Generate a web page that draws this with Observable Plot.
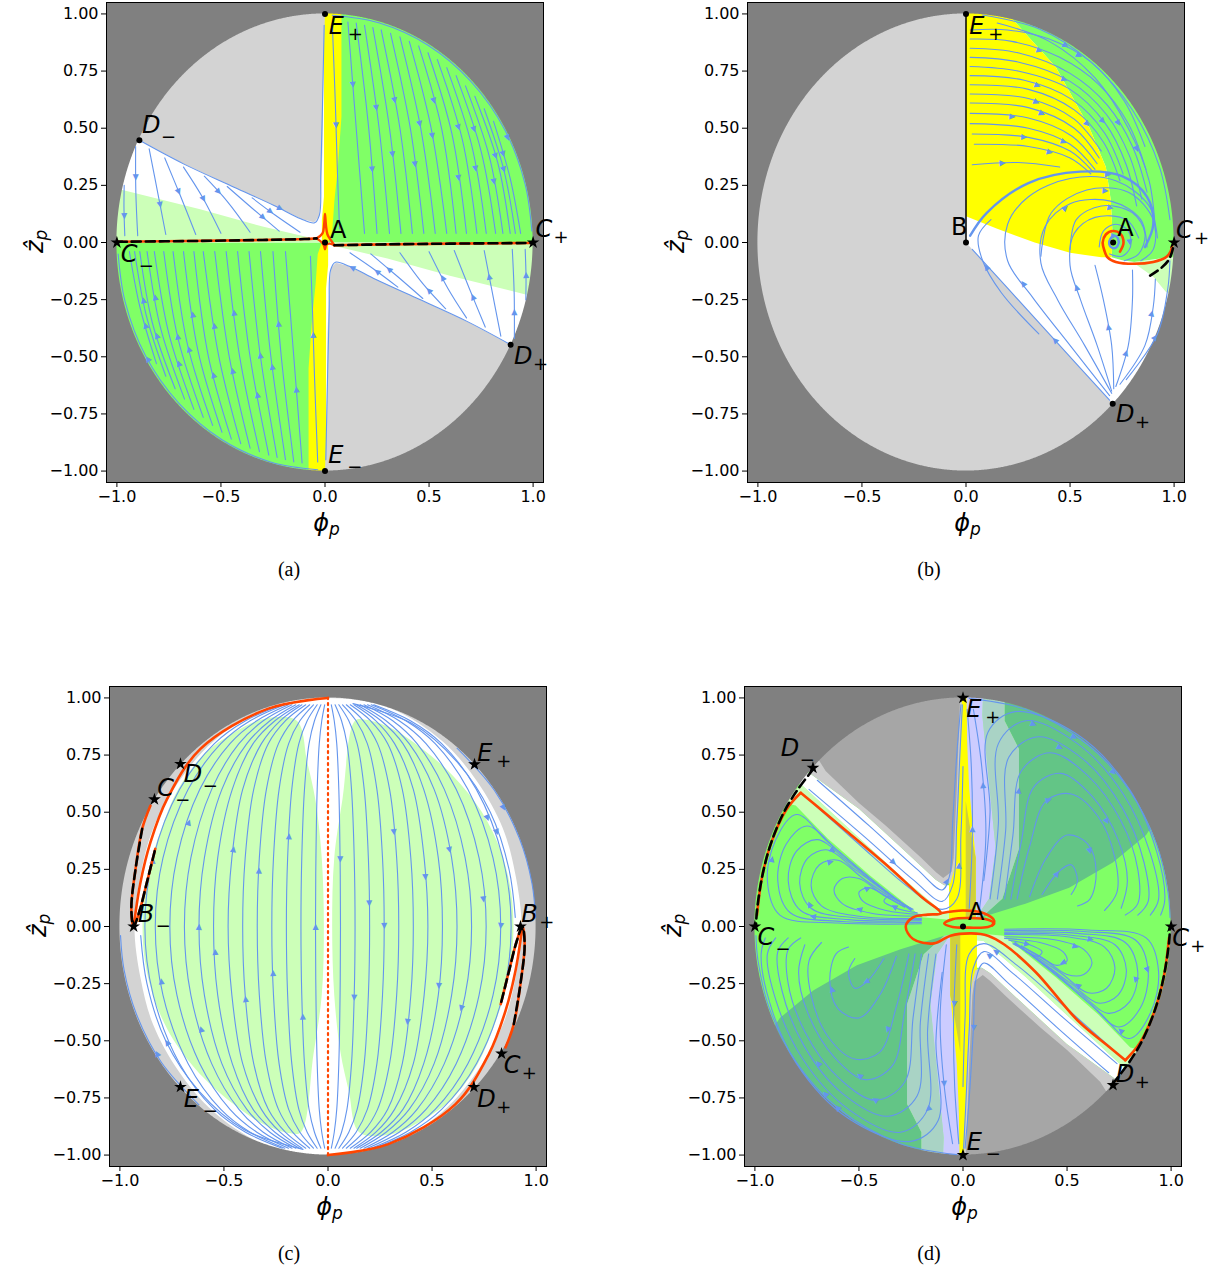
<!DOCTYPE html>
<html><head><meta charset="utf-8">
<script src="https://cdn.jsdelivr.net/npm/d3@7"></script>
<script src="https://cdn.jsdelivr.net/npm/@observablehq/plot@0.6"></script>
<style>
body{margin:0;background:#fff;}
#root{position:relative;width:1222px;height:1275px;background:#fff;overflow:hidden;}
.panel{position:absolute;}
.cap{position:absolute;font-family:"Liberation Serif","Times New Roman",serif;font-size:20px;line-height:20px;transform:translateX(-50%);white-space:nowrap;}
</style></head>
<body><div id="root"></div>
<script>
// ---------------- ticks ----------------
const XT = [-1, -0.5, 0, 0.5, 1];
const YT = [-1, -0.75, -0.5, -0.25, 0, 0.25, 0.5, 0.75, 1];
const CAPTIONS = ["(a)", "(b)", "(c)", "(d)"];

// ---------------- panel (a) ----------------
const A_grayUL = [[-0.892,0.447],[-0.68,0.344],[-0.437,0.242],[-0.245,0.162],[-0.117,0.104],[-0.053,0.089],[-0.029,0.111],[-0.021,0.184],[-0.012,0.40],[-0.008,0.767],[0,1.0],[0,1.1],[-1.1,1.1],[-1.1,0.55],[-0.99,0.495]];
const A_lightUL = [[-1.1,0.26],[-0.997,0.235],[-0.6,0.145],[-0.3,0.07],[-0.117,0.031],[-0.03,0.012],[-0.03,0],[-1.1,0]];
const A_greenUR = [[0,0],[1.1,0],[1.1,1.1],[0,1.1]];
const A_yellowU = [[-0.005,1.1],[0.079,1.1],[0.079,0.55],[0.062,0.33],[0.045,0.18],[0.035,0.05],[0.015,0],[-0.015,0],[-0.015,0.1],[-0.005,0.2]];
const A_sepL = [[-0.995,0.003],[-0.6,0.007],[-0.3,0.011],[-0.1,0.015],[-0.04,0.018]];
const A_sepR = [[0.045,-0.012],[0.3,-0.008],[0.6,-0.005],[0.995,-0.002]];
const A_cuspUp = [[-0.04,0.018],[-0.012,0.04],[-0.004,0.08],[0,0.125],[0.004,0.08],[0.012,0.035],[0.03,0.008],[0.045,-0.012]];
const A_cuspDown = [[-0.04,0.018],[-0.015,0.0],[-0.004,-0.015],[0,-0.03],[0.006,-0.01],[0.02,-0.005],[0.045,-0.012]];
const A_streamUR = [
  [[0.035,0.96],[0.05,0.6],[0.06,0.3],[0.07,0.06]],
  [[0.11,0.965],[0.15,0.5],[0.19,0.04]],
  [[0.15,0.96],[0.21,0.5],[0.25,0.04]],
  [[0.19,0.95],[0.26,0.5],[0.31,0.04]],
  [[0.23,0.94],[0.31,0.5],[0.365,0.04]],
  [[0.27,0.93],[0.36,0.5],[0.42,0.04]],
  [[0.315,0.915],[0.41,0.5],[0.475,0.04]],
  [[0.36,0.9],[0.46,0.5],[0.53,0.04]],
  [[0.405,0.88],[0.51,0.5],[0.585,0.04]],
  [[0.45,0.86],[0.56,0.5],[0.63,0.04]],
  [[0.495,0.83],[0.61,0.475],[0.68,0.04]],
  [[0.54,0.8],[0.66,0.45],[0.73,0.04]],
  [[0.585,0.765],[0.705,0.425],[0.775,0.04]],
  [[0.63,0.73],[0.75,0.4],[0.82,0.04]],
  [[0.675,0.685],[0.79,0.375],[0.855,0.04]],
  [[0.72,0.64],[0.83,0.35],[0.89,0.04]],
  [[0.765,0.585],[0.86,0.315],[0.915,0.04]],
  [[0.81,0.53],[0.89,0.28],[0.94,0.04]],
  [[0.035,0.994],[0.258,0.961],[0.497,0.862],[0.703,0.703],[0.862,0.497],[0.961,0.258],[0.994,0.05]]
];
const A_streamUL = [
  [[-0.892,0.447],[-0.68,0.344],[-0.437,0.242],[-0.245,0.162],[-0.117,0.104],[-0.05,0.086],[-0.027,0.12],[-0.02,0.3],[-0.012,0.6],[-0.004,0.95]],
  [[-0.965,0.25],[-0.966,0.15],[-0.962,0.03]],
  [[-0.91,0.42],[-0.909,0.22],[-0.9,0.03]],
  [[-0.845,0.41],[-0.8,0.2],[-0.765,0.035]],
  [[-0.77,0.37],[-0.693,0.2],[-0.621,0.035]],
  [[-0.68,0.33],[-0.59,0.2],[-0.5,0.04]],
  [[-0.58,0.29],[-0.47,0.18],[-0.36,0.045]],
  [[-0.47,0.245],[-0.35,0.15],[-0.22,0.05]],
  [[-0.35,0.195],[-0.24,0.12],[-0.12,0.045]]
];
const A_dots = [[0,1],[0,-1],[-0.892,0.447],[0.892,-0.447],[0,0]];
const A_stars = [[1,0],[-1,0]];
const A_labels = [
  {t:"E",s:"+",x:0.018,y:0.914,it:1},{t:"D",s:"−",x:-0.88,y:0.481,it:1},{t:"A",s:"",x:0.024,y:0.021,it:0},
  {t:"C",s:"+",x:1.012,y:0.022,it:1},{t:"C",s:"−",x:-0.981,y:-0.086,it:1},{t:"D",s:"+",x:0.908,y:-0.53,it:1},
  {t:"E",s:"−",x:0.016,y:-0.964,it:1}
];

// ---------------- panel (b) ----------------
const B_gray = [[0,1.1],[0,0],[0.705,-0.705],[0.8,-0.8],[0.8,-1.1],[-1.1,-1.1],[-1.1,1.1]];
const B_yellow = [[0,1.1],[0.21,1.1],[0.208,0.993],[0.432,0.767],[0.592,0.504],[0.672,0.33],[0.696,0.184],[0.704,0.04],[0.7,-0.065],[0.65,-0.065],[0.5,-0.045],[0.33,0.0],[0.15,0.06],[0,0.115]];
const B_green = [[0.21,1.1],[0.208,0.993],[0.432,0.767],[0.592,0.504],[0.672,0.33],[0.696,0.184],[0.704,0.04],[0.7,-0.065],[0.75,-0.078],[0.81,-0.085],[0.95,-0.068],[1.1,-0.06],[1.1,1.1]];
const B_light = [[0.8,-0.085],[0.9,-0.15],[0.96,-0.215],[1.1,-0.27],[1.1,-0.06]];
const B_vline = [[0,0],[0,1]];
const B_orange = [[0.74,-0.04],[0.757,0.0],[0.74,0.04],[0.707,0.05],[0.672,0.035],[0.657,0.0],[0.665,-0.035],[0.68,-0.065],[0.72,-0.085],[0.808,-0.093],[0.9,-0.085],[0.96,-0.065],[0.983,-0.04],[0.99,-0.015]];
const B_dash = [[0.885,-0.145],[0.94,-0.11],[0.975,-0.075],[0.992,-0.035],[0.997,-0.005]];
const B_streamYellow = [
  [[0.02,0.93],[0.2,0.93],[0.4,0.89],[0.6,0.79],[0.76,0.62],[0.86,0.42]],
  [[0.02,0.89],[0.22,0.88],[0.45,0.81],[0.64,0.69],[0.78,0.52],[0.865,0.32]],
  [[0.02,0.85],[0.25,0.83],[0.5,0.74],[0.68,0.6],[0.8,0.42],[0.87,0.22]],
  [[0.02,0.81],[0.25,0.79],[0.5,0.705],[0.675,0.56],[0.785,0.38],[0.845,0.19]],
  [[0.02,0.77],[0.25,0.75],[0.5,0.67],[0.67,0.52],[0.77,0.34],[0.82,0.16]],
  [[0.02,0.73],[0.28,0.71],[0.51,0.625],[0.665,0.48],[0.755,0.3]],
  [[0.02,0.69],[0.3,0.67],[0.52,0.58],[0.66,0.44],[0.74,0.27]],
  [[0.02,0.65],[0.3,0.63],[0.52,0.54],[0.65,0.4]],
  [[0.02,0.61],[0.3,0.59],[0.52,0.5],[0.64,0.37]],
  [[0.02,0.565],[0.3,0.545],[0.51,0.465],[0.63,0.345]],
  [[0.02,0.52],[0.3,0.5],[0.5,0.43],[0.62,0.32]],
  [[0.03,0.475],[0.3,0.46],[0.5,0.4],[0.61,0.31]],
  [[0.04,0.43],[0.3,0.42],[0.5,0.37],[0.6,0.3]],
  [[0.03,0.34],[0.25,0.35],[0.45,0.33]]
];
const B_streamLoops = [
  [[0.64,-0.02],[0.66,0.05],[0.72,0.08],[0.78,0.05],[0.79,-0.02],[0.75,-0.06],[0.69,-0.05]],
  [[0.5,-0.03],[0.53,0.1],[0.65,0.16],[0.8,0.13],[0.86,0.04],[0.83,-0.05],[0.76,-0.08]],
  [[0.36,-0.06],[0.41,0.13],[0.58,0.23],[0.78,0.22],[0.9,0.1],[0.9,-0.03],[0.84,-0.08]]
];
const B_streamOuter = [
  [[0.08,0.995],[0.35,0.935],[0.6,0.79],[0.8,0.58],[0.93,0.33],[0.98,0.1]],
  [[0.15,0.96],[0.4,0.88],[0.62,0.72],[0.78,0.5],[0.88,0.27],[0.91,0.05]]
];
const B_streamWhite = [
  [[0.69,-0.69],[0.45,-0.45],[0.2,-0.2],[0.03,-0.03]],
  [[0.35,-0.4],[0.17,-0.22],[0.08,-0.08],[0.06,0.03],[0.12,0.1]],
  [[0.69,-0.67],[0.5,-0.45],[0.32,-0.24],[0.2,-0.08],[0.2,0.08],[0.3,0.2],[0.5,0.28],[0.72,0.27],[0.88,0.16],[0.92,0.02]],
  [[0.70,-0.66],[0.57,-0.45],[0.44,-0.25],[0.36,-0.09],[0.38,0.07],[0.5,0.17],[0.7,0.18],[0.84,0.1],[0.87,-0.02]],
  [[0.70,-0.65],[0.63,-0.45],[0.55,-0.25],[0.5,-0.1],[0.52,0.04],[0.62,0.11],[0.77,0.1],[0.83,0.02]],
  [[0.71,-0.64],[0.7,-0.45],[0.66,-0.25],[0.62,-0.1]],
  [[0.72,-0.63],[0.78,-0.45],[0.8,-0.25],[0.8,-0.12]],
  [[0.74,-0.62],[0.86,-0.45],[0.9,-0.28],[0.91,-0.16]],
  [[0.77,-0.6],[0.92,-0.4],[0.97,-0.2],[0.98,-0.08]]
];
const B_streamBold = [
  [[0.02,0.03],[0.1,0.13],[0.3,0.26],[0.55,0.31],[0.75,0.29],[0.87,0.2],[0.9,0.08],[0.86,-0.02]],
  [[0.735,0.0],[0.725,0.025],[0.705,0.028],[0.688,0.0],[0.7,-0.022],[0.722,-0.022],[0.735,0.0]]
];
const B_dots = [[0,1],[0,0],[0.707,0],[0.705,-0.705]];
const B_stars = [[1,0]];
const B_labels = [
  {t:"E",s:"+",x:0.016,y:0.913,it:1},{t:"B",s:"",x:-0.072,y:0.031,it:0},{t:"A",s:"",x:0.727,y:0.027,it:0},
  {t:"C",s:"+",x:1.009,y:0.02,it:1},{t:"D",s:"+",x:0.721,y:-0.785,it:1}
];

// ---------------- panel (c) ----------------
const C_inner = [[0,1],[0.3,0.955],[0.55,0.81],[0.72,0.63],[0.84,0.43],[0.9,0.23],[0.93,0],[0.9,-0.23],[0.84,-0.43],[0.72,-0.63],[0.55,-0.81],[0.3,-0.955],[0,-1],[-0.3,-0.955],[-0.55,-0.81],[-0.72,-0.63],[-0.84,-0.43],[-0.9,-0.23],[-0.93,0],[-0.9,0.23],[-0.84,0.43],[-0.72,0.63],[-0.55,0.81],[-0.3,0.955]];
const C_lobeL = [[-0.02,0.0],[-0.03,0.3],[-0.06,0.55],[-0.1,0.72],[-0.15,0.9],[-0.3,0.91],[-0.45,0.85],[-0.6,0.75],[-0.72,0.6],[-0.8,0.43],[-0.86,0.25],[-0.89,0.05],[-0.88,-0.15],[-0.83,-0.33],[-0.74,-0.5],[-0.6,-0.66],[-0.45,-0.78],[-0.3,-0.87],[-0.18,-0.905],[-0.13,-0.9],[-0.07,-0.56],[-0.03,-0.3]];
const C_orL = [[0,1],[-0.29,0.952],[-0.613,0.777],[-0.773,0.558],[-0.853,0.369],[-0.901,0.194],[-0.934,0.0]];
const C_hairL = [[-0.853,0.529],[-0.893,0.427],[-0.925,0.25],[-0.945,0.08],[-0.934,0.0],[-0.905,0.07],[-0.87,0.194],[-0.83,0.34]];
const C_dashL = [[-0.893,0.427],[-0.925,0.25],[-0.945,0.08],[-0.934,0.0],[-0.905,0.07],[-0.87,0.194],[-0.83,0.34]];
const C_axis = [[0,-1],[0,1]];
const C_merY = [-0.97,-0.9,-0.8,-0.6,-0.3,0,0.3,0.6,0.8,0.9,0.97];
const C_merX = [
  [-0.016,-0.03,-0.042,-0.052,-0.058,-0.06,-0.058,-0.052,-0.042,-0.03,-0.016],
  [-0.034,-0.065,-0.091,-0.113,-0.126,-0.13,-0.126,-0.113,-0.091,-0.065,-0.034],
  [-0.052,-0.1,-0.14,-0.174,-0.194,-0.2,-0.194,-0.174,-0.14,-0.1,-0.052],
  [-0.07,-0.135,-0.189,-0.235,-0.262,-0.27,-0.262,-0.235,-0.189,-0.135,-0.07],
  [-0.088,-0.17,-0.238,-0.296,-0.33,-0.34,-0.33,-0.296,-0.238,-0.17,-0.088],
  [-0.107,-0.205,-0.287,-0.357,-0.398,-0.41,-0.398,-0.357,-0.287,-0.205,-0.107],
  [-0.125,-0.23,-0.32,-0.41,-0.462,-0.48,-0.462,-0.41,-0.32,-0.23,-0.125],
  [-0.138,-0.255,-0.36,-0.46,-0.53,-0.55,-0.53,-0.46,-0.36,-0.255,-0.138],
  [-0.155,-0.279,-0.39,-0.51,-0.594,-0.62,-0.594,-0.51,-0.39,-0.279,-0.155],
  [-0.173,-0.311,-0.428,-0.559,-0.659,-0.69,-0.659,-0.559,-0.428,-0.311,-0.173],
  [-0.19,-0.342,-0.471,-0.616,-0.726,-0.76,-0.726,-0.616,-0.471,-0.342,-0.19],
  [-0.208,-0.374,-0.515,-0.672,-0.793,-0.83,-0.793,-0.672,-0.515,-0.374,-0.208],
  [-0.22,-0.396,-0.546,-0.713,-0.84,-0.88,-0.84,-0.713,-0.546,-0.396,-0.22]
];
const C_edgeR = [
  [[0.12,0.975],[0.4,0.89],[0.62,0.72],[0.78,0.5],[0.87,0.25],[0.9,0.04]],
  [[0.62,0.78],[0.8,0.595],[0.92,0.385],[0.98,0.19],[0.997,0.04]]
];
const C_stars = [[0.704,0.709],[-0.709,0.711],[-0.834,0.556],[-0.934,0.0],[0.925,0.0],[0.834,-0.556],[0.701,-0.702],[-0.709,-0.702]];
const C_labels = [
  {t:"E",s:"+",x:0.717,y:0.722,it:1},{t:"C",s:"−",x:-0.821,y:0.573,it:1},{t:"D",s:"−",x:-0.693,y:0.631,it:1},
  {t:"B",s:"−",x:-0.914,y:0.019,it:1},{t:"B",s:"+",x:0.929,y:0.019,it:1},{t:"C",s:"+",x:0.845,y:-0.643,it:1},
  {t:"D",s:"+",x:0.717,y:-0.789,it:1},{t:"E",s:"−",x:-0.693,y:-0.789,it:1}
];

// ---------------- panel (d) ----------------
const D_rimUL = [[-0.74,0.673],[-0.5,0.515],[-0.3,0.348],[-0.131,0.205],[-0.09,0.18],[-0.06,0.19],[-0.045,0.24],[-0.035,0.3],[-0.02,0.6],[-0.006,0.952],[-0.003,1.1],[-1.1,1.1],[-1.1,0.75],[-0.84,0.765]];
const D_dgrayUL = [[-0.69,0.724],[-0.66,0.68],[-0.5,0.54],[-0.372,0.442],[-0.2,0.3],[-0.131,0.238],[-0.095,0.212],[-0.055,0.24],[-0.045,0.3],[-0.03,0.6],[-0.016,0.952],[-0.01,1.1],[-1.1,1.1],[-1.1,1.0],[-0.79,0.8]];
const D_whiteUL = [[-0.74,0.673],[-0.5,0.515],[-0.3,0.348],[-0.131,0.205],[-0.09,0.18],[-0.067,0.18],[-0.067,0.06],[-0.099,0.063],[-0.3,0.22],[-0.55,0.43],[-0.772,0.617],[-0.85,0.65]];
const D_lgreenUL = [[-0.772,0.617],[-0.55,0.43],[-0.3,0.22],[-0.099,0.063],[-0.067,0.06],[-0.067,0.03],[-0.195,0.04],[-0.45,0.225],[-0.65,0.385],[-0.804,0.529],[-0.9,0.55]];
const D_yellowU = [[-0.005,1.1],[0.015,1.1],[0.02,0.8],[0.03,0.6],[0.061,0.3],[0.061,0.035],[-0.067,0.035],[-0.067,0.25],[-0.04,0.3],[-0.028,0.6],[-0.012,0.9]];
const D_oliveU = [[0.013,0.55],[0.04,0.4],[0.061,0.3],[0.061,0.035],[0.013,0.035]];
const D_lavU = [[0.01,1.1],[0.1,1.1],[0.093,0.923],[0.125,0.631],[0.157,0.34],[0.125,0.121],[0.061,0.035],[0.061,0.3],[0.04,0.4],[0.013,0.55],[0.02,0.8]];
const D_tealU = [[0.1,1.1],[0.2,1.1],[0.2,0.9],[0.269,0.777],[0.269,0.34],[0.189,0.121],[0.09,0.04],[0.061,0.035],[0.125,0.121],[0.157,0.34],[0.125,0.631],[0.093,0.923]];
const D_dgreenUR = [[0.2,1.1],[1.1,1.1],[1.1,0.6],[0.95,0.5],[0.88,0.4],[0.72,0.28],[0.51,0.17],[0.3,0.1],[0.09,0.04],[0.189,0.121],[0.269,0.34],[0.269,0.777],[0.2,0.9]];
const D_orMain = [[-0.78,0.585],[-0.7,0.525],[-0.55,0.41],[-0.35,0.255],[-0.2,0.13],[-0.107,0.058],[-0.17,0.052],[-0.24,0.04],[-0.275,0.0],[-0.24,-0.055],[-0.14,-0.074],[-0.06,-0.04],[0.04,-0.03],[0.12,-0.04],[0.2,-0.08],[0.35,-0.2],[0.55,-0.41],[0.7,-0.525],[0.78,-0.585]];
const D_orTop = [[-0.107,0.058],[0.0,0.07],[0.1,0.058],[0.15,0.025],[0.14,0.005]];
const D_orInner = [[-0.09,0.013],[-0.05,0.032],[0.03,0.037],[0.12,0.03],[0.15,0.013],[0.12,-0.002],[0.03,-0.005],[-0.05,-0.002]];
const D_orEdgeR = [[0.78,-0.585],[0.85,-0.51],[0.92,-0.37],[0.965,-0.22],[0.99,-0.05]];
const D_dashR = [[0.718,-0.69],[0.796,-0.597],[0.862,-0.498],[0.925,-0.358],[0.965,-0.219],[0.99,-0.07],[0.995,0.0]];
const D_streamHair = [
  [[-0.2,0.012],[-0.6,0.015],[-0.88,0.05],[-0.94,0.2],[-0.9,0.38],[-0.8,0.49],[-0.65,0.37],[-0.45,0.215],[-0.25,0.07]],
  [[-0.2,0.018],[-0.58,0.022],[-0.83,0.06],[-0.89,0.2],[-0.85,0.36],[-0.75,0.44],[-0.6,0.33],[-0.42,0.19],[-0.25,0.072]],
  [[-0.2,0.025],[-0.55,0.03],[-0.78,0.07],[-0.84,0.2],[-0.8,0.33],[-0.7,0.38],[-0.56,0.29],[-0.4,0.17],[-0.25,0.075]],
  [[-0.2,0.03],[-0.52,0.038],[-0.73,0.08],[-0.785,0.19],[-0.745,0.3],[-0.65,0.335],[-0.52,0.25],[-0.37,0.15],[-0.245,0.075]],
  [[-0.2,0.035],[-0.5,0.045],[-0.68,0.09],[-0.73,0.18],[-0.69,0.27],[-0.6,0.29],[-0.48,0.21],[-0.35,0.13],[-0.24,0.075]],
  [[-0.2,0.045],[-0.44,0.058],[-0.58,0.1],[-0.62,0.16],[-0.58,0.21],[-0.5,0.21],[-0.4,0.15],[-0.28,0.085]],
  [[-0.2,0.052],[-0.37,0.07],[-0.48,0.11],[-0.5,0.15],[-0.45,0.17],[-0.37,0.13],[-0.28,0.085]],
  [[-0.22,0.06],[-0.32,0.08],[-0.38,0.11],[-0.36,0.13],[-0.3,0.11]]
];
const D_streamBand = [
  [[-0.7,0.64],[-0.45,0.44],[-0.22,0.25],[-0.1,0.16],[-0.065,0.22],[-0.05,0.45],[-0.03,0.75],[-0.01,0.97]],
  [[-0.74,0.6],[-0.47,0.39],[-0.24,0.205],[-0.1,0.11],[-0.05,0.18],[-0.03,0.45],[-0.015,0.75],[-0.003,0.97]],
  [[-0.76,0.57],[-0.5,0.36],[-0.26,0.17],[-0.1,0.075],[-0.03,0.12],[-0.01,0.4],[0.0,0.7]]
];
const D_streamLav = [
  [[0.03,0.08],[0.045,0.4],[0.04,0.7],[0.02,0.95]],
  [[0.08,0.08],[0.11,0.4],[0.09,0.7],[0.05,0.95]]
];
const D_streamArc = [
  [[0.03,0.998],[0.3,0.95],[0.6,0.795],[0.8,0.595],[0.93,0.36],[0.985,0.15],[0.995,0.04]],
  [[0.1,0.2],[0.13,0.5],[0.12,0.85],[0.25,0.94],[0.55,0.84],[0.8,0.6],[0.93,0.33],[0.97,0.12],[0.95,0.05]],
  [[0.13,0.12],[0.17,0.45],[0.17,0.8],[0.3,0.9],[0.55,0.8],[0.77,0.58],[0.9,0.32],[0.94,0.12],[0.9,0.05]],
  [[0.165,0.12],[0.205,0.42],[0.22,0.74],[0.36,0.83],[0.58,0.73],[0.765,0.52],[0.87,0.28],[0.89,0.11],[0.84,0.05]],
  [[0.2,0.12],[0.24,0.4],[0.28,0.68],[0.42,0.76],[0.6,0.66],[0.76,0.46],[0.84,0.25],[0.84,0.1],[0.78,0.05]],
  [[0.23,0.12],[0.28,0.37],[0.34,0.61],[0.47,0.67],[0.62,0.57],[0.745,0.38],[0.79,0.2],[0.76,0.08]],
  [[0.26,0.12],[0.32,0.35],[0.4,0.55],[0.52,0.58],[0.65,0.48],[0.73,0.3],[0.74,0.15],[0.68,0.07]],
  [[0.32,0.13],[0.4,0.3],[0.5,0.4],[0.6,0.36],[0.64,0.24],[0.61,0.12],[0.55,0.09]],
  [[0.38,0.14],[0.46,0.24],[0.52,0.27],[0.55,0.2],[0.52,0.14]]
];
const D_stars = [[0,1],[0,-1],[-0.721,0.694],[0.721,-0.694],[-1,0],[1,0]];
const D_dots = [[0,0]];
const D_labels = [
  {t:"E",s:"+",x:0.016,y:0.916,it:1},{t:"D",s:"−",x:-0.876,y:0.748,it:1},{t:"A",s:"",x:0.024,y:0.028,it:0},
  {t:"C",s:"−",x:-0.988,y:-0.082,it:1},{t:"C",s:"+",x:1.005,y:-0.087,it:1},{t:"D",s:"+",x:0.734,y:-0.68,it:1},
  {t:"E",s:"−",x:0.018,y:-0.979,it:1}
];

// ---------------- styling / helpers ----------------
const BG = "#808080", BLUE = "#6495ed", ORANGE = "#ff4500", GREEN = "#80ff66", LGREEN = "#ccffb8",
      YELLOW = "#ffff00", LGRAY = "#d3d3d3", LAV = "#ccccff", DGRAY = "#a6a6a6", RIM = "#cccccc",
      DGREEN = "#63c586", TEAL = "#a9d3c5", OLIVE = "#d0d03c";
const SX = 208.1, SY = 228.6;
const ARROW_FRACS = [0.5, 0.3, 0.7, 0.4, 0.62, 0.35, 0.66, 0.45];
const rot = pts => pts.map(([x, y]) => [-x, -y]);
const rotAll = lines => lines.map(rot);
const fx = d => d[0], fy = d => d[1];
const fmtX = d => (d < 0 ? "−" : "") + Math.abs(d).toFixed(1);
const fmtY = d => (d < 0 ? "−" : "") + Math.abs(d).toFixed(2);
// disk outline (geometry of the unit disk) for the outside mask
const MASK = [{x: -1.05, h: 0}].concat(d3.range(0, 721).map(i => {
  const t = Math.PI - i * Math.PI / 720; return {x: Math.cos(t), h: Math.sin(t)};
})).concat([{x: 1.05, h: 0}]);

function flatten(lines) {
  const rows = [];
  lines.forEach((l, i) => l.forEach(p => rows.push({x: p[0], y: p[1], id: i})));
  return rows;
}
// one arrowhead per streamline, placed at a fraction of its length
function arrowsOf(lines) {
  return lines.filter(l => l.length >= 2).map((l, k) => {
    const t = ARROW_FRACS[k % ARROW_FRACS.length];
    const segs = []; let tot = 0;
    for (let i = 1; i < l.length; i++) {
      const d = Math.hypot((l[i][0] - l[i-1][0]) * SX, (l[i][1] - l[i-1][1]) * SY);
      segs.push(d); tot += d;
    }
    let target = t * tot, i = 0;
    while (i < segs.length - 1 && target > segs[i]) { target -= segs[i]; i++; }
    const f = segs[i] ? target / segs[i] : 0;
    const a = l[i], b = l[i + 1];
    return {x: a[0] + (b[0] - a[0]) * f, y: a[1] + (b[1] - a[1]) * f,
            r: Math.atan2((b[0] - a[0]) * SX, (b[1] - a[1]) * SY) * 180 / Math.PI};
  });
}
const LW = {E: 19, D: 19, C: 18, B: 18};

function panel(cfg) {
  const marks = [Plot.frame({fill: cfg.base, stroke: "none"})];
  for (const r of cfg.regions)
    marks.push(Plot.line(r[0], {x: fx, y: fy, fill: r[1], stroke: "none", curve: r[2] || "linear-closed", clip: true}));
  marks.push(Plot.areaY(MASK, {x: "x", y1: "h", y2: () => 1.05, fill: BG, curve: "linear"}));
  marks.push(Plot.areaY(MASK, {x: "x", y1: d => -d.h, y2: () => -1.05, fill: BG, curve: "linear"}));
  marks.push(Plot.line(flatten(cfg.streams), {x: "x", y: "y", z: "id", stroke: BLUE, strokeWidth: 1.1, curve: "catmull-rom"}));
  if (cfg.bold) marks.push(Plot.line(flatten(cfg.bold), {x: "x", y: "y", z: "id", stroke: BLUE, strokeWidth: 2.4, curve: "catmull-rom"}));
  marks.push(Plot.text(arrowsOf(cfg.streams.concat(cfg.bold || [])), {x: "x", y: "y", rotate: "r", text: () => "▲", fill: BLUE, fontSize: 8, lineAnchor: "middle", textAnchor: "middle"}));
  for (const c of cfg.curves)
    marks.push(Plot.line(c.pts, {x: fx, y: fy, stroke: c.stroke, strokeWidth: c.w, strokeDasharray: c.dash, curve: c.curve || "catmull-rom", fill: "none"}));
  if (cfg.dots) marks.push(Plot.dot(cfg.dots, {x: fx, y: fy, r: 3, fill: "black", stroke: "none"}));
  if (cfg.stars) marks.push(Plot.dot(cfg.stars, {x: fx, y: fy, r: 4, symbol: "star", fill: "black", stroke: "none"}));
  const L = cfg.labels;
  marks.push(Plot.text(L.filter(d => d.it), {x: "x", y: "y", text: "t", textAnchor: "start", lineAnchor: "bottom", fontSize: 24, fontStyle: "italic", fill: "black"}));
  marks.push(Plot.text(L.filter(d => !d.it), {x: "x", y: "y", text: "t", textAnchor: "start", lineAnchor: "bottom", fontSize: 24, fill: "black"}));
  for (const k of ["E", "D", "C", "B"]) for (const s of ["+", "−"]) {
    const sub = L.filter(d => d.t === k && d.s === s);
    if (sub.length) marks.push(Plot.text(sub, {x: "x", y: "y", text: "s", textAnchor: "start", lineAnchor: "bottom", fontSize: 18, dx: LW[k], dy: s === "+" ? 6 : 10, fill: "black"}));
  }
  marks.push(Plot.frame({stroke: "black", strokeWidth: 1}));
  marks.push(Plot.axisX({ticks: XT, tickFormat: fmtX, tickSize: 5, tickPadding: 3, fontSize: 16, label: null}));
  marks.push(Plot.axisY({ticks: YT, tickFormat: fmtY, tickSize: 5, tickPadding: 3, fontSize: 16, label: null}));
  // axis titles
  marks.push(Plot.text(["ϕ"], {frameAnchor: "bottom", textAnchor: "end", lineAnchor: "bottom", dx: 4, dy: 48, fontSize: 24, fontStyle: "italic", fill: "black"}));
  marks.push(Plot.text(["p"], {frameAnchor: "bottom", textAnchor: "start", lineAnchor: "bottom", dx: 4, dy: 52, fontSize: 17, fontStyle: "italic", fill: "black"}));
  marks.push(Plot.text(["ẑ"], {frameAnchor: "left", rotate: -90, textAnchor: "end", lineAnchor: "bottom", dx: -64, dy: -2, fontSize: 24, fontStyle: "italic", fill: "black"}));
  marks.push(Plot.text(["p"], {frameAnchor: "left", rotate: -90, textAnchor: "start", lineAnchor: "bottom", dx: -60, dy: -2, fontSize: 17, fontStyle: "italic", fill: "black"}));
  return Plot.plot({
    width: 560, height: 540,
    marginLeft: cfg.mL, marginRight: 560 - cfg.mL - 437, marginTop: 2, marginBottom: 58,
    x: {domain: [-1.05, 1.05], label: null},
    y: {domain: [-1.05, 1.05], label: null},
    style: {fontFamily: "DejaVu Sans, sans-serif", fontSize: "16px", color: "black", background: "transparent", overflow: "visible"},
    marks
  });
}

const cfgA = {
  mL: 106, base: "white",
  regions: [[A_greenUR, GREEN], [rot(A_greenUR), GREEN], [A_yellowU, YELLOW], [rot(A_yellowU), YELLOW],
            [A_lightUL, LGREEN], [rot(A_lightUL), LGREEN], [A_grayUL, LGRAY], [rot(A_grayUL), LGRAY]],
  streams: A_streamUR.concat(A_streamUL, rotAll(A_streamUR), rotAll(A_streamUL)),
  curves: [
    {pts: A_sepL, stroke: ORANGE, w: 2.6}, {pts: A_sepR, stroke: ORANGE, w: 2.6},
    {pts: A_cuspUp, stroke: ORANGE, w: 2.4}, {pts: A_cuspDown, stroke: ORANGE, w: 2.4},
    {pts: A_sepL, stroke: "black", w: 2.6, dash: "9,5"}, {pts: A_sepR, stroke: "black", w: 2.6, dash: "9,5"}
  ],
  dots: A_dots, stars: A_stars, labels: A_labels
};
const cfgB = {
  mL: 107, base: "white",
  regions: [[B_green, GREEN], [B_yellow, YELLOW], [B_light, LGREEN], [B_gray, LGRAY]],
  streams: B_streamYellow.concat(B_streamLoops, B_streamOuter, B_streamWhite),
  bold: B_streamBold,
  curves: [
    {pts: B_vline, stroke: "black", w: 1.5, curve: "linear"},
    {pts: B_orange, stroke: ORANGE, w: 2.6},
    {pts: B_dash, stroke: "black", w: 2.6, dash: "9,5"}
  ],
  dots: B_dots, stars: B_stars, labels: B_labels
};
const merLines = C_merX.map(row => row.map((x, i) => [x, C_merY[i]]));
const cfgC = {
  mL: 109, base: LGRAY,
  regions: [[C_inner, "white", "catmull-rom-closed"], [C_lobeL, LGREEN, "catmull-rom-closed"], [rot(C_lobeL), LGREEN, "catmull-rom-closed"]],
  streams: merLines.concat(rotAll(merLines), C_edgeR, rotAll(C_edgeR)),
  curves: [
    {pts: C_orL, stroke: ORANGE, w: 2.6}, {pts: rot(C_orL), stroke: ORANGE, w: 2.6},
    {pts: C_hairL, stroke: ORANGE, w: 2.6}, {pts: rot(C_hairL), stroke: ORANGE, w: 2.6},
    {pts: C_dashL, stroke: "black", w: 2.6, dash: "9,5"}, {pts: rot(C_dashL), stroke: "black", w: 2.6, dash: "9,5"},
    {pts: C_axis, stroke: ORANGE, w: 2.2, dash: "2,4", curve: "linear"}
  ],
  stars: C_stars, labels: C_labels
};
const cfgD = {
  mL: 104, base: GREEN,
  regions: [
    [D_dgreenUR, DGREEN], [rot(D_dgreenUR), DGREEN], [D_tealU, TEAL], [rot(D_tealU), TEAL],
    [D_lavU, LAV], [rot(D_lavU), LAV], [D_yellowU, YELLOW], [rot(D_yellowU), YELLOW],
    [D_oliveU, OLIVE], [rot(D_oliveU), OLIVE], [D_lgreenUL, LGREEN], [rot(D_lgreenUL), LGREEN],
    [D_whiteUL, "white"], [rot(D_whiteUL), "white"], [D_rimUL, RIM], [rot(D_rimUL), RIM],
    [D_dgrayUL, DGRAY], [rot(D_dgrayUL), DGRAY]
  ],
  streams: D_streamHair.concat(D_streamBand, D_streamLav, D_streamArc,
    rotAll(D_streamHair), rotAll(D_streamBand), rotAll(D_streamLav), rotAll(D_streamArc)),
  curves: [
    {pts: D_orMain, stroke: ORANGE, w: 2.6}, {pts: D_orTop, stroke: ORANGE, w: 2.6},
    {pts: D_orInner, stroke: ORANGE, w: 2.6, curve: "catmull-rom-closed"},
    {pts: D_orEdgeR, stroke: ORANGE, w: 2.6}, {pts: rot(D_orEdgeR), stroke: ORANGE, w: 2.6},
    {pts: D_dashR, stroke: "black", w: 2.6, dash: "9,5"}, {pts: rot(D_dashR), stroke: "black", w: 2.6, dash: "9,5"}
  ],
  dots: D_dots, stars: D_stars, labels: D_labels
};

const root = document.getElementById("root");
const spots = [[cfgA, 0, 0], [cfgB, 640, 0], [cfgC, 0, 684], [cfgD, 640, 684]];
spots.forEach(([cfg, left, top], i) => {
  const div = document.createElement("div");
  div.className = "panel";
  div.style.left = left + "px"; div.style.top = top + "px";
  div.appendChild(panel(cfg));
  root.appendChild(div);
  const cap = document.createElement("div");
  cap.className = "cap";
  cap.style.left = (left + 289) + "px";
  cap.style.top = (top + 559) + "px";
  cap.textContent = CAPTIONS[i];
  root.appendChild(cap);
});
</script>
</body></html>
